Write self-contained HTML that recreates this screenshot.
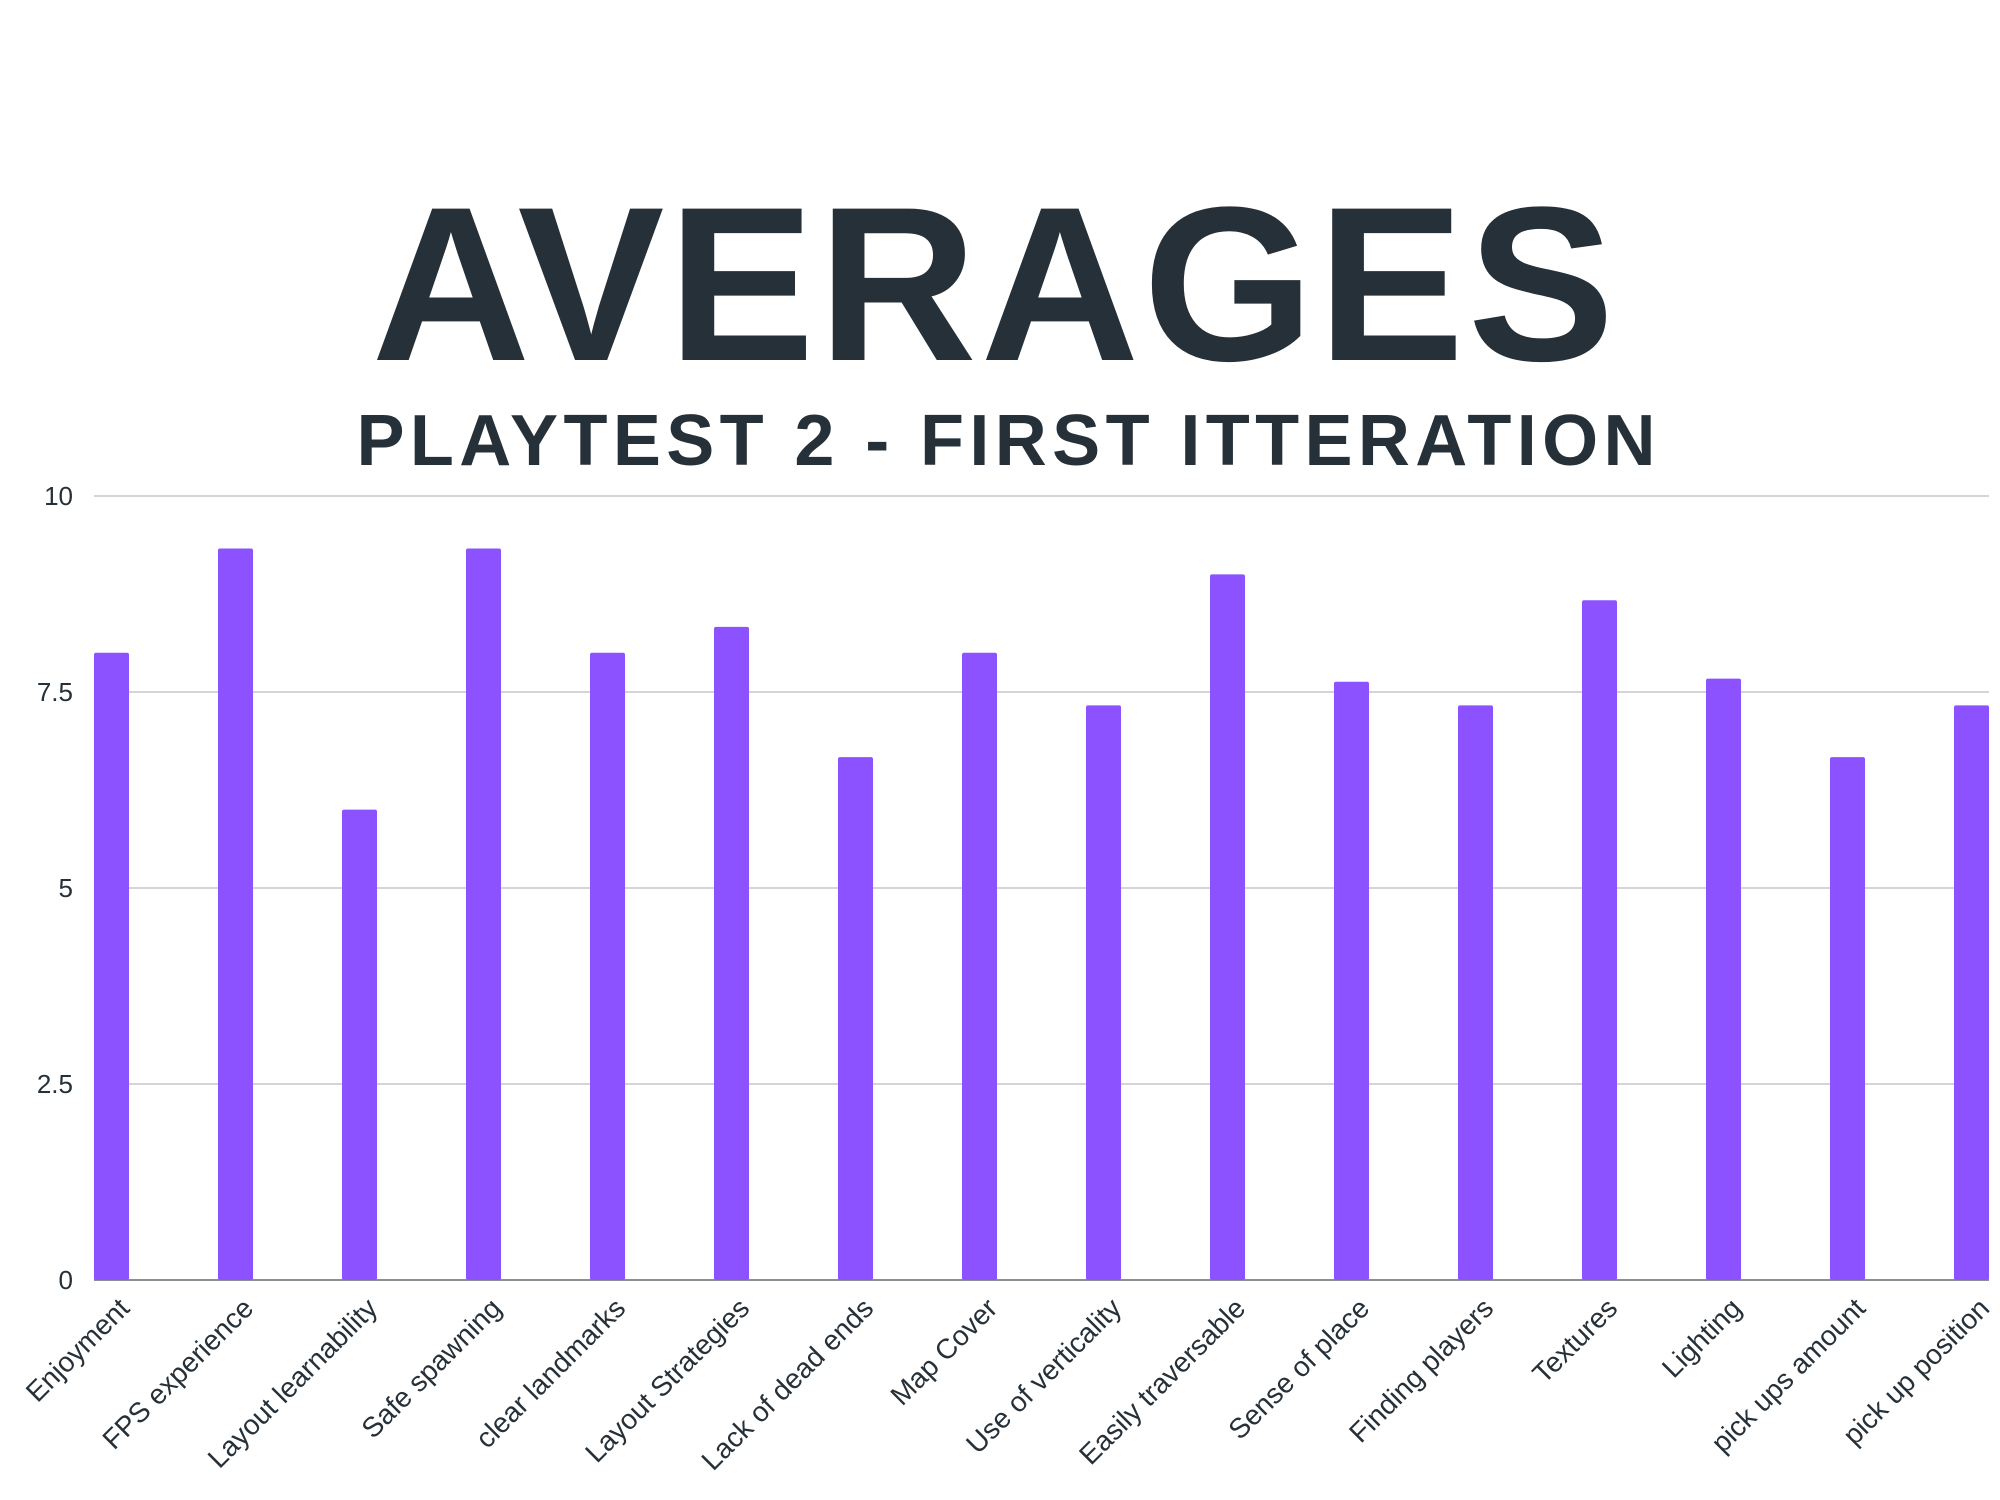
<!DOCTYPE html>
<html><head><meta charset="utf-8"><style>
html,body{margin:0;padding:0;background:#fff;}
svg{display:block;font-family:"Liberation Sans",sans-serif;}
</style></head><body>
<svg id="chart" width="2000" height="1500" viewBox="0 0 2000 1500">
<text x="993" y="360" font-size="220" font-weight="bold" fill="#263038" text-anchor="middle" textLength="1243" lengthAdjust="spacing">AVERAGES</text>
<text x="1006" y="465" font-size="72" font-weight="bold" fill="#263038" text-anchor="middle" textLength="1299" lengthAdjust="spacing">PLAYTEST 2 - FIRST ITTERATION</text>
<g id="grid"></g><g id="bars"></g><g id="xlabels"></g>
</svg>
<script>
const categories = ["Enjoyment","FPS experience","Layout learnability","Safe spawning","clear landmarks","Layout Strategies","Lack of dead ends","Map Cover","Use of verticality","Easily traversable","Sense of place","Finding players","Textures","Lighting","pick ups amount","pick up position"];
const values = [8, 9.33, 6, 9.33, 8, 8.33, 6.67, 8, 7.33, 9, 7.63, 7.33, 8.67, 7.67, 6.67, 7.33];
const yTicks = [0, 2.5, 5, 7.5, 10];
const yTickLabels = ["0","2.5","5","7.5","10"];

const NS = "http://www.w3.org/2000/svg";
const plotLeft = 94, plotRight = 1989, y0 = 1280, y10 = 496, yMax = 10;
const barW = 35;
const step = (plotRight - plotLeft - barW) / (categories.length - 1);
function yScale(v){ return y0 - (v / yMax) * (y0 - y10); }
function xBand(i){ return plotLeft + i * step; }
function mk(tag, attrs){ const e = document.createElementNS(NS, tag); for (const k in attrs) e.setAttribute(k, attrs[k]); return e; }

const grid = document.getElementById('grid');
yTicks.forEach((t, i) => {
  const y = yScale(t);
  const ln = mk('line', {x1: plotLeft, x2: plotRight, y1: y, y2: y, stroke: t === 0 ? '#8a8f94' : '#d3d5d8', 'stroke-width': 2});
  
  
  grid.appendChild(ln);
  const tx = mk('text', {x: 73, y: y + 9, 'font-size': 26, fill: '#263038', 'text-anchor': 'end'});
  tx.textContent = yTickLabels[i];
  
  
  grid.appendChild(tx);
});

const bars = document.getElementById('bars');
const xl = document.getElementById('xlabels');
values.forEach((v, i) => {
  const x = xBand(i);
  const top = yScale(v);
  const r = mk('rect', {x: x, y: top, width: barW, height: y0 - top, fill: '#8c52ff', rx: 2});
  
  
  bars.appendChild(r);
  const lx = x + barW + 2, ly = y0 + 30;
  const t = mk('text', {x: lx, y: ly, 'font-size': 28, fill: '#263038', 'text-anchor': 'end', transform: 'rotate(-45 ' + lx + ' ' + ly + ')'});
  t.textContent = categories[i];
  
  
  xl.appendChild(t);
});
</script>
</body></html>
